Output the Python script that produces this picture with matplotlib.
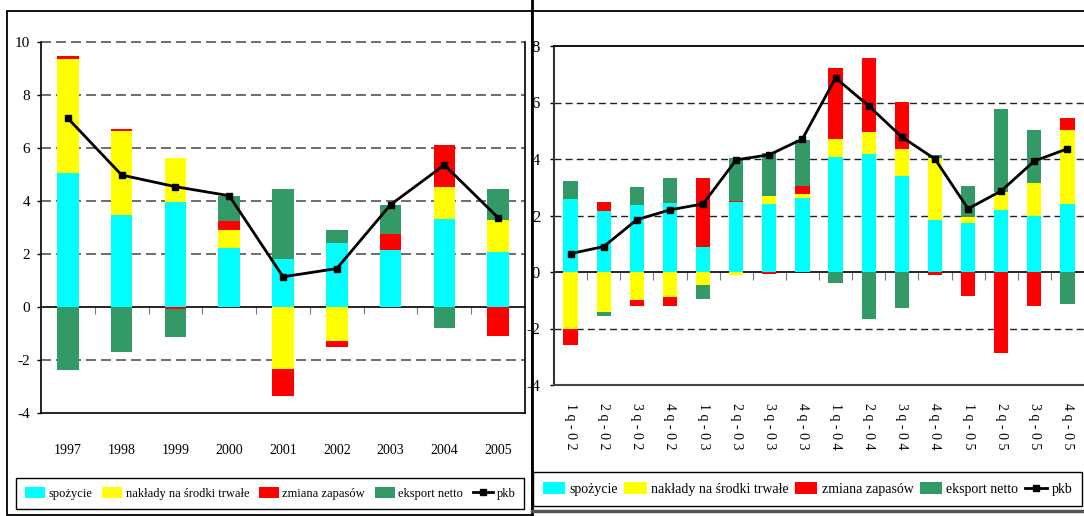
import matplotlib
matplotlib.use('Agg')
import matplotlib.pyplot as plt
import numpy as np
from matplotlib.patches import Patch, Rectangle
from matplotlib.lines import Line2D

plt.rcParams['font.family'] = ['Liberation Serif', 'DejaVu Serif']
plt.rcParams['axes.unicode_minus'] = False

# annual contributions to GDP growth (pp)
years = ['1997', '1998', '1999', '2000', '2001', '2002', '2003', '2004', '2005']
spozycie_y = [5.05, 3.47, 3.96, 2.23, 1.81, 2.43, 2.15, 3.32, 2.09]
naklady_y = [4.30, 3.18, 1.66, 0.68, -2.34, -1.28, 0.0, 1.21, 1.19]
zapasy_y = [0.12, 0.07, -0.09, 0.34, -1.01, -0.22, 0.62, 1.58, -1.08]
eksport_y = [-2.38, -1.69, -1.03, 0.94, 2.64, 0.48, 1.08, -0.78, 1.17]
pkb_y = [7.12, 4.98, 4.54, 4.20, 1.14, 1.45, 3.86, 5.36, 3.37]

# quarterly contributions
quarters = ['1q-02', '2q-02', '3q-02', '4q-02', '1q-03', '2q-03', '3q-03', '4q-03',
            '1q-04', '2q-04', '3q-04', '4q-04', '1q-05', '2q-05', '3q-05', '4q-05']
spozycie_q = [2.59, 2.17, 2.38, 2.45, 0.90, 2.49, 2.41, 2.63, 4.08, 4.18, 3.40, 1.85, 1.74, 2.20, 1.99, 2.41]
naklady_q = [-2.00, -1.40, -0.98, -0.87, -0.45, -0.09, 0.29, 0.14, 0.63, 0.78, 0.96, 2.19, 0.22, 0.64, 1.17, 2.62]
zapasy_q = [-0.59, 0.32, -0.21, -0.32, 2.43, 0.03, -0.06, 0.28, 2.51, 2.61, 1.66, -0.09, -0.84, -2.87, -1.19, 0.42]
eksport_q = [0.64, -0.17, 0.64, 0.88, -0.49, 1.52, 1.52, 1.63, -0.38, -1.65, -1.26, 0.11, 1.09, 2.93, 1.87, -1.15]
pkb_q = [0.65, 0.90, 1.85, 2.20, 2.41, 3.97, 4.15, 4.71, 6.87, 5.88, 4.78, 4.00, 2.24, 2.87, 3.93, 4.36]

names = ['spożycie', 'nakłady na środki trwałe', 'zmiana zapasów', 'eksport netto', 'pkb']
colors = ['#00FFFF', '#FFFF00', '#FF0000', '#339966']


def stacked(ax, series, width):
    x = np.arange(len(series[0]))
    pos = np.zeros(len(x))
    neg = np.zeros(len(x))
    for vals, c in zip(series, colors):
        vals = np.array(vals)
        bottom = np.where(vals >= 0, pos, neg)
        ax.bar(x, vals, width, bottom=bottom, color=c, linewidth=0, zorder=2)
        pos += np.clip(vals, 0, None)
        neg += np.clip(vals, None, 0)
    return x


W, H = 1084, 516
fig = plt.figure(figsize=(W / 100, H / 100), dpi=100)

# ---- left chart (annual)
ax1 = fig.add_axes([41 / W, 1 - 413 / H, 484 / W, 371 / H])
x1 = stacked(ax1, [spozycie_y, naklady_y, zapasy_y, eksport_y], 0.4)
ax1.plot(x1, pkb_y, color='black', lw=2, marker='s', ms=5, zorder=4)
ax1.set_xlim(-0.5, len(years) - 0.5)
ax1.set_ylim(-4, 10)
ax1.set_yticks(np.arange(-4, 11, 2))
for v in [-2, 2, 4, 6, 8, 10]:
    ax1.axhline(v, color='#555555', lw=1.2, dashes=(6, 3), zorder=1, clip_on=False)
ax1.spines['top'].set_visible(False)
for s in ['left', 'right', 'bottom']:
    ax1.spines[s].set_linewidth(1.2)
ax1.set_xticks(x1)
ax1.set_xticklabels(years, fontsize=10)
ax1.tick_params(axis='x', length=0, pad=22)
ax1.tick_params(axis='y', length=3, width=1, labelsize=11, pad=5)
sec1 = ax1.secondary_xaxis(4 / 14)
sec1.set_xticks(x1[:-1] + 0.5)
sec1.tick_params(length=5, color='#777777', labelbottom=False)
sec1.spines['bottom'].set_linewidth(1.2)

# ---- right chart (quarterly)
ax2 = fig.add_axes([554 / W, 1 - 385 / H, 540 / W, 339 / H])
x2 = stacked(ax2, [spozycie_q, naklady_q, zapasy_q, eksport_q], 0.43)
ax2.plot(x2, pkb_q, color='black', lw=2, marker='s', ms=5, zorder=4)
ax2.set_xlim(-0.5, len(quarters) - 0.5 + 10 / 33.2)
ax2.set_ylim(-4, 8)
ax2.set_yticks(np.arange(-4, 9, 2))
for v in [-2, 2, 4, 6]:
    ax2.axhline(v, color='#222222', lw=1, dashes=(5, 3), zorder=1)
ax2.spines['right'].set_visible(False)
ax2.spines['left'].set_linewidth(1.5)
ax2.spines['left'].set_color('#333333')
ax2.spines['top'].set_linewidth(1.3)
ax2.spines['bottom'].set_linewidth(1.5)
ax2.spines['bottom'].set_color('#444444')
ax2.set_xticks(x2)
ax2.set_xticklabels([' '.join(q) for q in quarters], rotation=-90, fontsize=10, va='top')
ax2.tick_params(axis='x', length=0, pad=13)
ax2.tick_params(axis='y', length=3, width=1, labelsize=12, pad=7)
sec2 = ax2.secondary_xaxis(4 / 12)
sec2.set_xticks(x2[:-1] + 0.5)
sec2.tick_params(length=6, color='#777777', labelbottom=False)
sec2.spines['bottom'].set_linewidth(1.2)

# ---- legends
handles = [Patch(facecolor=c, edgecolor='none') for c in colors]
handles.append(Line2D([], [], color='black', lw=2, marker='s', ms=4))
for box, fs in [((16 / W, 1 - 510 / H, 508 / W, 33 / H), 9),
                ((533 / W, 1 - 507 / H, 549 / W, 36 / H), 10)]:
    leg = fig.legend(handles, names, loc='center', bbox_to_anchor=box, mode='expand',
                     ncol=5, fontsize=fs, frameon=True, fancybox=False, framealpha=1,
                     edgecolor='black', handlelength=1.6, handleheight=1.0,
                     handletextpad=0.3, columnspacing=0.3, borderpad=0.7, borderaxespad=0)
    leg.get_frame().set_linewidth(1)

# ---- page frames
fig.add_artist(Rectangle((7 / W, 1 - 515 / H), 525 / W, 504 / H, transform=fig.transFigure,
                         fill=False, edgecolor='black', lw=1.3))
fig.add_artist(Line2D([532 / W, 532 / W], [0, 1], transform=fig.transFigure, color='black', lw=2))
fig.add_artist(Line2D([532 / W, 1], [1 - 11 / H, 1 - 11 / H], transform=fig.transFigure,
                      color='black', lw=1.3))
fig.add_artist(Line2D([532 / W, 1], [1 - 511 / H, 1 - 511 / H], transform=fig.transFigure,
                      color='#555555', lw=2.5))

fig.savefig('out.png', dpi=100)
